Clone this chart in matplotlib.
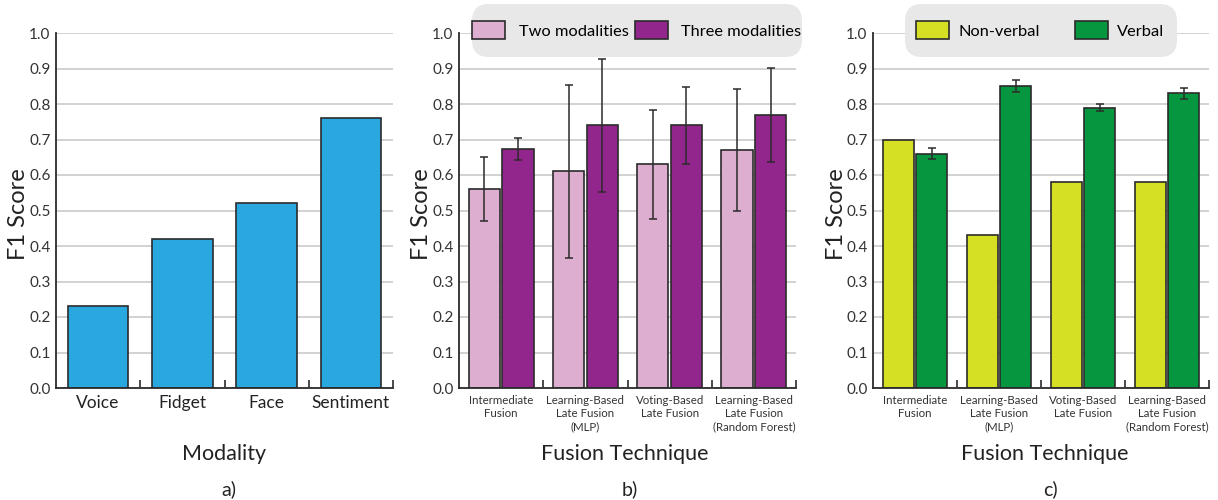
import numpy as np
import matplotlib.pyplot as plt
from matplotlib.patches import FancyBboxPatch

plt.rcParams['font.family'] = ['Lato', 'DejaVu Sans']

# panel a
modalities = ['Voice', 'Fidget', 'Face', 'Sentiment']
modality_f1 = [0.23, 0.42, 0.52, 0.76]

# panels b and c
techniques = ['Intermediate\nFusion', 'Learning-Based\nLate Fusion\n(MLP)',
              'Voting-Based\nLate Fusion', 'Learning-Based\nLate Fusion\n(Random Forest)']
two_mod = [0.56, 0.61, 0.63, 0.67]
two_mod_err = [0.09, 0.243, 0.154, 0.172]
three_mod = [0.673, 0.74, 0.74, 0.77]
three_mod_err = [0.03, 0.187, 0.108, 0.132]

nonverbal = [0.70, 0.43, 0.58, 0.58]
verbal = [0.66, 0.85, 0.79, 0.83]
verbal_err = [0.016, 0.017, 0.01, 0.016]

W, H = 1218, 500
fig = plt.figure(figsize=(W / 100, H / 100), dpi=100)

dark = '#2b2b2b'
grid_c = '#cfcfcf'


def style_axes(ax, n):
	ax.set_ylim(0, 1.0)
	ax.set_xlim(-0.5, n - 0.5)
	ax.set_yticks(np.arange(0, 1.01, 0.1))
	ax.set_yticklabels(['%.1f' % v for v in np.arange(0, 1.01, 0.1)])
	ax.yaxis.grid(True, color=grid_c, lw=1.3)
	ax.set_axisbelow(True)
	for s in ['top', 'right']:
		ax.spines[s].set_visible(False)
	for s in ['left', 'bottom']:
		ax.spines[s].set_color(dark)
		ax.spines[s].set_linewidth(1.3)
	ax.tick_params(axis='y', length=0, labelsize=11, colors='#333333', pad=4)
	ax.set_xticks(np.arange(n))
	ax.set_xticks(np.arange(n) + 0.5, minor=True)
	ax.tick_params(axis='x', which='major', length=0)
	ax.tick_params(axis='x', which='minor', direction='in', length=6, width=1.2, color=dark)
	ax.set_ylabel('F1 Score', fontsize=17, color='#222222', va='center')
	ax.yaxis.set_label_coords(-37 / 337, 0.49)


def px_axes(left, right, top=33, bottom=388):
	return fig.add_axes([left / W, 1 - bottom / H, (right - left) / W, (bottom - top) / H])


def legend_box(ax, left, right, top=4, bottom=57):
	# rounded grey box in pixel coords, above the grid but under the legend
	box = FancyBboxPatch((left, H - bottom), right - left, bottom - top,
		boxstyle='round,pad=0,rounding_size=17', transform=None,
		facecolor='#E8E8E8', edgecolor='none', zorder=4, clip_on=False)
	ax.add_artist(box)


# ---- a) ----
ax1 = px_axes(56, 393)
x = np.arange(len(modalities))
ax1.bar(x, modality_f1, width=0.72, color='#29A8E0', edgecolor=dark, lw=1.2)
style_axes(ax1, len(modalities))
ax1.set_xticklabels(modalities, fontsize=12.5, color='#222222')
ax1.tick_params(axis='x', which='major', pad=5)

# ---- b) ----
ax2 = px_axes(459, 796)
x = np.arange(len(techniques))
ekw = dict(ecolor=dark, elinewidth=1.1, capsize=3, capthick=1.1)
ax2.bar(x - 0.2, two_mod, width=0.37, color='#DDAED0', edgecolor=dark, lw=1.2,
	yerr=two_mod_err, error_kw=ekw, label='Two modalities')
ax2.bar(x + 0.2, three_mod, width=0.37, color='#92268C', edgecolor=dark, lw=1.2,
	yerr=three_mod_err, error_kw=ekw, label='Three modalities')
style_axes(ax2, len(techniques))
ax2.set_xticklabels(techniques, fontsize=8.3, color='#333333', linespacing=1.25, va='top')
ax2.tick_params(axis='x', which='major', pad=5)
legend_box(ax2, 472, 802)
ax2.legend(loc='center', bbox_to_anchor=((637 - 459) / 337, (388 - 30) / 355), ncol=2,
	fontsize=11.8, handlelength=2.0, handleheight=1.25, handletextpad=0.85,
	columnspacing=0.35, frameon=False, borderpad=0)

# ---- c) ----
ax3 = px_axes(873, 1209)
ax3.bar(x - 0.2, nonverbal, width=0.37, color='#D5DF24', edgecolor=dark, lw=1.2,
	label='Non-verbal')
ax3.bar(x + 0.2, verbal, width=0.37, color='#06963F', edgecolor=dark, lw=1.2,
	yerr=verbal_err, error_kw=ekw, label='Verbal')
style_axes(ax3, len(techniques))
ax3.set_xticklabels(techniques, fontsize=8.3, color='#333333', linespacing=1.25, va='top')
ax3.tick_params(axis='x', which='major', pad=5)
legend_box(ax3, 905, 1177)
ax3.legend(loc='center', bbox_to_anchor=((1040.5 - 873) / 336, (388 - 30) / 355), ncol=2,
	fontsize=11.8, handlelength=2.0, handleheight=1.25, handletextpad=0.6,
	columnspacing=2.1, frameon=False, borderpad=0)

# axis titles and panel letters
for cx, title, letter in [(224, 'Modality', 'a)'), (625, 'Fusion Technique', 'b)'),
                          (1045, 'Fusion Technique', 'c)')]:
	fig.text(cx / W, 1 - 454 / H, title, ha='center', va='center', fontsize=15.5, color='#222222')
	fig.text((cx + 5) / W, 1 - 489 / H, letter, ha='center', va='center', fontsize=14, color='#222222')

fig.savefig('out.png', dpi=100)
